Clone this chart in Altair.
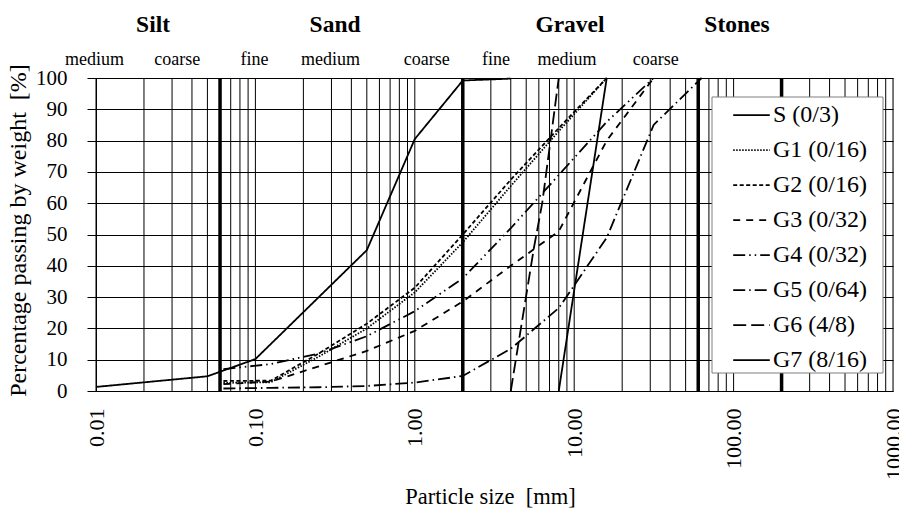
import altair as alt
import pandas as pd

# ---------------- data ----------------
series_names = ["S (0/3)", "G1 (0/16)", "G2 (0/16)", "G3 (0/32)",
                "G4 (0/32)", "G5 (0/64)", "G6 (4/8)", "G7 (8/16)"]

sieve = [0.063, 0.125, 0.25, 0.5, 1, 2, 4, 8, 16, 31.5, 63]

s_x = [0.01, 0.05, 0.1, 0.5, 1, 2, 4]
s_y = [1.3, 4.7, 10.2, 45, 80.5, 99.2, 99.8]
g1_y = [2.6, 2.8, 11, 20, 31.5, 47.5, 65.5, 83, 100]
g2_y = [3.2, 3.3, 12, 21.5, 33, 50, 67.5, 84, 100]
g3_y = [2.2, 3.0, 7.9, 12.8, 19.2, 28.6, 40, 51, 80, 100]
g4_y = [7.0, 8.6, 12, 17.5, 25.5, 36, 52, 69, 86, 100]
g5_y = [0.8, 1.0, 1.2, 1.6, 2.7, 4.8, 13.5, 26.5, 49, 85, 100]
g6_x = [4, 5.6, 6.3, 8]
g6_y = [0, 46, 60, 100]
g7_x = [8, 16]
g7_y = [0, 100]

dashes = [[1, 0], [1.5, 1.5], [4, 2.5], [7, 6], [12, 4, 1.5, 4, 1.5, 4],
          [12, 4, 1.5, 4], [13, 5], [1, 0]]

zone_names = ["Silt", "Sand", "Gravel", "Stones"]
zone_x = [0.0228, 0.316, 9.41, 105]
sub_names = ["medium", "coarse", "fine", "medium", "coarse", "fine", "medium", "coarse"]
sub_x = [0.00978, 0.0323, 0.0987, 0.296, 1.19, 3.23, 9.01, 32.5]

x_tick_values = [0.01, 0.1, 1, 10, 100, 1000]
y_tick_values = [0, 10, 20, 30, 40, 50, 60, 70, 80, 90, 100]
minor_grid = [m * 10 ** k for k in range(-2, 3) for m in range(1, 10)] + [1000]
boundary_x = [0.06, 2, 60, 200]

# ---------------- tables ----------------
rows = []
def add(name, xs, ys):
    for a, b in zip(xs, ys):
        rows.append({"series": name, "size": a, "pass": b})

add(series_names[0], s_x, s_y)
add(series_names[1], sieve, g1_y)
add(series_names[2], sieve, g2_y)
add(series_names[3], sieve, g3_y)
add(series_names[4], sieve, g4_y)
add(series_names[5], sieve, g5_y)
add(series_names[6], g6_x, g6_y)
add(series_names[7], g7_x, g7_y)
df = pd.DataFrame(rows)

FONT = "Liberation Serif"
xscale = alt.Scale(type="log", domain=[0.01, 1000], nice=False)
xaxis = alt.Axis(values=x_tick_values, format=".2f", labelAngle=270, ticks=False,
                 grid=False, domainColor="black", labelFont=FONT, labelFontSize=22,
                 labelColor="black", labelPadding=17, labelFlush=False,
                 labelOverlap=False,
                 title="Particle size\u00a0 [mm]", titleFont=FONT, titleFontSize=22.5,
                 titleFontWeight="normal", titleColor="black",
                 titleX=394, titleAlign="center",
                 titleY=112, titleBaseline="alphabetic")

def X(field):
    return alt.X(field, type="quantitative", scale=xscale, axis=xaxis)

grid = alt.Chart(pd.DataFrame({"v": minor_grid})).mark_rule(
    color="black", strokeWidth=1).encode(x=X("v"))

thick = alt.Chart(pd.DataFrame({"v": boundary_x})).mark_rule(
    color="black", strokeWidth=3.5).encode(x=X("v"))

lines = alt.Chart(df).mark_line(strokeWidth=1.8, color="black").encode(
    x=X("size"),
    y=alt.Y("pass:Q", scale=alt.Scale(domain=[0, 100], nice=False),
            axis=alt.Axis(values=y_tick_values, grid=True, gridColor="black",
                          gridOpacity=1, gridWidth=1, tickSize=9, tickColor="black",
                          domainColor="black", labelFont=FONT, labelFontSize=21,
                          labelColor="black", labelPadding=20,
                          title="Percentage passing by weight\u00a0 [%]",
                          titleFont=FONT, titleFontSize=24, titleFontWeight="normal",
                          titleColor="black", titleX=-78, titleY=152,
                          titleAngle=270, titleAlign="center",
                          titleBaseline="middle")),
    strokeDash=alt.StrokeDash("series:N", sort=series_names,
                              scale=alt.Scale(domain=series_names, range=dashes),
                              legend=alt.Legend(orient="none", legendX=636, legendY=20,
                                                title=None, symbolType="stroke",
                                                symbolSize=1340, symbolStrokeWidth=1.8,
                                                symbolStrokeColor="black",
                                                labelFont=FONT, labelFontSize=24,
                                                labelColor="black", labelOffset=2,
                                                clipHeight=34.3, rowPadding=0,
                                                padding=0, symbolOffset=0,
                                                labelLimit=300)),
    order=alt.Order("size:Q"),
)

box = alt.Chart(pd.DataFrame({"a": [0]})).mark_rect(
    fill="white", stroke="#7f7f7f", strokeWidth=1).encode(
    x=alt.value(616), x2=alt.value(787), y=alt.value(19), y2=alt.value(295))

zones = alt.Chart(pd.DataFrame({"name": zone_names, "x": zone_x})).mark_text(
    font=FONT, fontSize=23.5, fontWeight="bold", baseline="alphabetic",
    align="center", color="black").encode(x=X("x"), y=alt.value(-46.3), text="name:N")

subs = alt.Chart(pd.DataFrame({"name": sub_names, "x": sub_x})).mark_text(
    font=FONT, fontSize=18, baseline="alphabetic", align="center",
    color="black").encode(x=X("x"), y=alt.value(-12.7), text="name:N")

chart = alt.layer(grid, thick, lines, box, zones, subs).properties(
    width=797, height=313,
    autosize=alt.AutoSizeParams(type="none"),
    padding={"left": 96, "top": 78, "right": 6, "bottom": 121},
    background="white",
).configure_view(stroke="black", strokeWidth=1).configure(font=FONT)

chart.save("out.html", embed_options={"renderer": "svg", "actions": False})
